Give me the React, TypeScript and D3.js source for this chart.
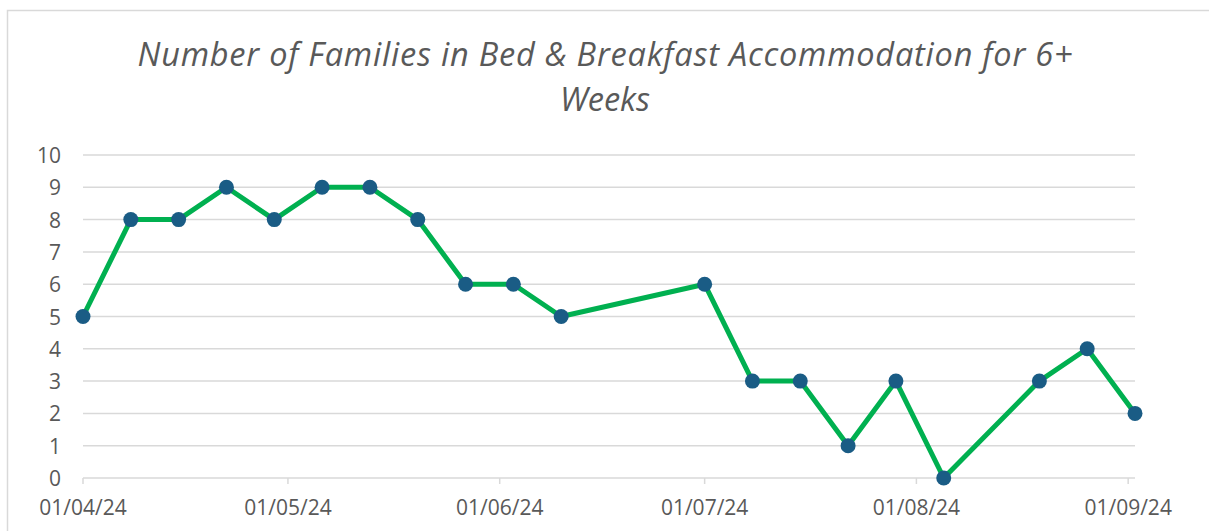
import * as d3 from "d3";
import { FC } from "react";

const dates = [
  "2024-04-01", "2024-04-08", "2024-04-15", "2024-04-22", "2024-04-29",
  "2024-05-06", "2024-05-13", "2024-05-20", "2024-05-27", "2024-06-03",
  "2024-06-10", "2024-07-01", "2024-07-08", "2024-07-15", "2024-07-22",
  "2024-07-29", "2024-08-05", "2024-08-19", "2024-08-26", "2024-09-02",
];
const families = [5, 8, 8, 9, 8, 9, 9, 8, 6, 6, 5, 6, 3, 3, 1, 3, 0, 3, 4, 2];
const monthTicks = ["2024-04-01", "2024-05-01", "2024-06-01", "2024-07-01", "2024-08-01", "2024-09-01"];
const yTicks = [0, 1, 2, 3, 4, 5, 6, 7, 8, 9, 10];

const W = 1209;
const H = 531;
const LEFT = 83;
const RIGHT = 1135;
const TOP = 155;
const BOTTOM = 478;
const TEXT = "#595959";
const FONT = "'Open Sans', sans-serif";

const parse = d3.utcParse("%Y-%m-%d");
const fmt = d3.utcFormat("%d/%m/%y");

const App: FC = () => {
  const pts = dates.map((d, i) => ({ date: parse(d) as Date, v: families[i] }));
  const x = d3
    .scaleUtc()
    .domain([parse("2024-04-01") as Date, parse("2024-09-02") as Date])
    .range([LEFT, RIGHT]);
  const y = d3.scaleLinear().domain([0, 10]).range([BOTTOM, TOP]);
  const line = d3
    .line<{ date: Date; v: number }>()
    .x((d) => x(d.date))
    .y((d) => y(d.v));

  return (
    <svg
      width={W}
      height={H}
      style={{ position: "absolute", left: 0, top: 0, background: "#fff" }}
    >
      <rect x={7.5} y={10.5} width={1215} height={540} fill="#fff" stroke="#d9d9d9" strokeWidth={1.5} />
      <g fontFamily={FONT} fill={TEXT} fontStyle="italic" fontSize={32.5} textAnchor="middle">
        <text x={605} y={66} textLength={935} lengthAdjust="spacing">
          Number of Families in Bed &amp; Breakfast Accommodation for 6+
        </text>
        <text x={605} y={111}>Weeks</text>
      </g>
      {yTicks.map((t) => (
        <g key={t}>
          <line x1={LEFT} x2={RIGHT} y1={y(t)} y2={y(t)} stroke="#d9d9d9" strokeWidth={1.5} />
          <text x={61} y={y(t) + 8} textAnchor="end" fontFamily={FONT} fontSize={21} fill={TEXT}>
            {t}
          </text>
        </g>
      ))}
      {monthTicks.map((m) => {
        const d = parse(m) as Date;
        return (
          <g key={m}>
            <line x1={x(d)} x2={x(d)} y1={BOTTOM} y2={BOTTOM + 6} stroke="#d9d9d9" strokeWidth={1.5} />
            <text x={x(d)} y={515} textAnchor="middle" fontFamily={FONT} fontSize={21} fill={TEXT}>
              {fmt(d)}
            </text>
          </g>
        );
      })}
      <path d={line(pts) ?? ""} fill="none" stroke="#00b050" strokeWidth={5} strokeLinejoin="round" />
      {pts.map((p, i) => (
        <circle key={i} cx={x(p.date)} cy={y(p.v)} r={7.5} fill="#1a5c85" />
      ))}
    </svg>
  );
};

export default App;
